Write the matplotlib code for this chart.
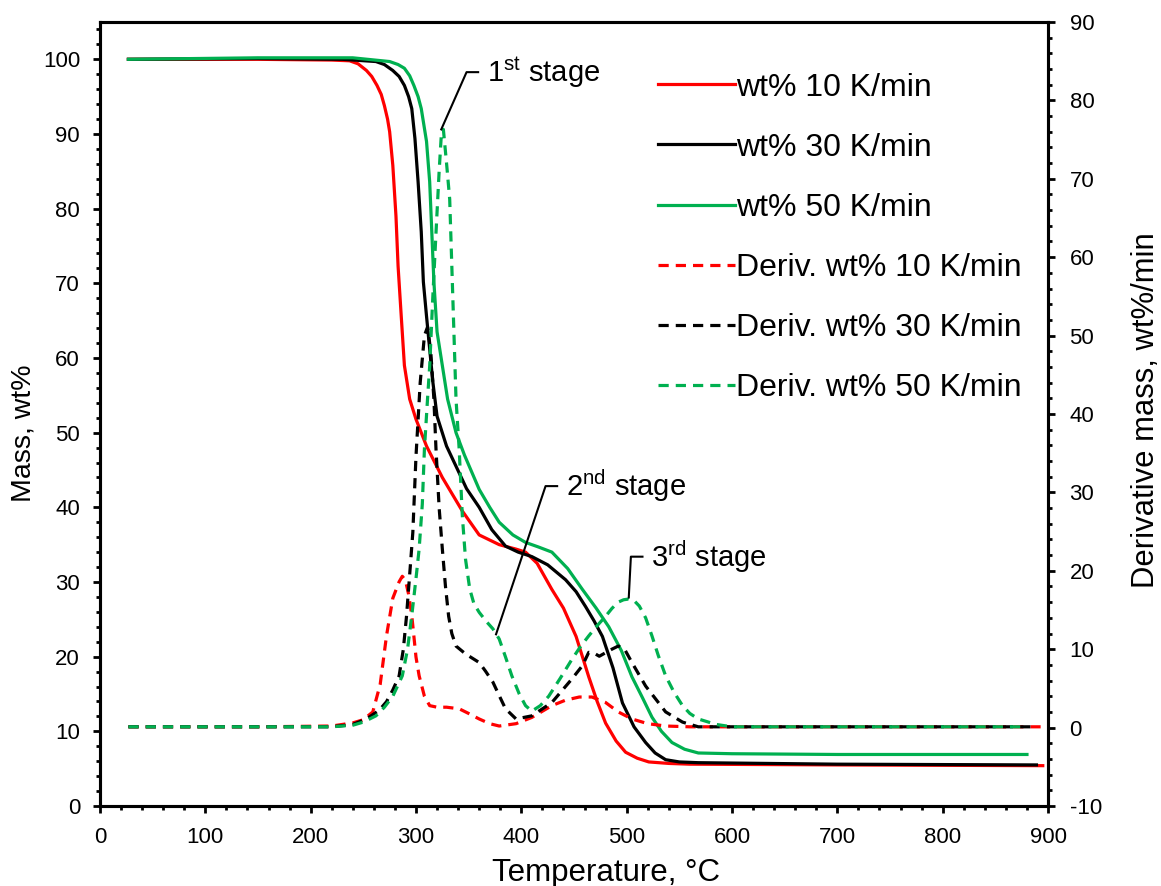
import matplotlib
matplotlib.use('Agg')
import matplotlib.pyplot as plt
from matplotlib.ticker import MultipleLocator, AutoMinorLocator

plt.rcParams['font.family'] = ['Liberation Sans', 'DejaVu Sans']
plt.rcParams['mathtext.fontset'] = 'custom'
plt.rcParams['mathtext.rm'] = 'Liberation Sans'
plt.rcParams['mathtext.it'] = 'Liberation Sans:italic'
plt.rcParams['axes.unicode_minus'] = False

# ---- TG curves (mass, wt%) ----
T_tg_10 = [27, 150, 220, 237, 245, 253, 258, 263, 267, 270, 273, 275, 278, 281, 283, 286, 289, 294, 300, 310,
           325, 344, 360, 379, 395, 404, 415, 429, 440, 452, 464, 472, 480, 490, 499, 510, 521, 540, 560, 700, 895]
m_10 = [100, 100, 99.9, 99.8, 99.4, 98.5, 97.7, 96.5, 95.3, 93.8, 92, 90.3, 85.8, 79, 72.3, 65.6, 59, 54.5, 51.8,
        48.2, 44, 39.5, 36.3, 35, 34.4, 34, 32.5, 29, 26.5, 22.7, 17.3, 14, 11.1, 8.7, 7.2, 6.4, 5.9, 5.7, 5.6,
        5.5, 5.4]

T_tg_30 = [27, 150, 230, 262, 270, 278, 284, 289, 293, 296, 299, 302, 305, 307, 310, 313, 316, 320, 329, 338,
           348, 360, 372, 385, 397, 410, 425, 442, 452, 461, 469, 477, 487, 496, 507, 518, 527, 537, 550, 568,
           700, 889]
m_30 = [100, 100.1, 100, 99.7, 99.3, 98.5, 97.7, 96.5, 95, 93.4, 89.4, 83.6, 76.9, 70.2, 65.6, 61.2, 56.8,
        52.2, 48.2, 45.5, 42.5, 40, 37, 34.8, 34, 33.4, 32.3, 30.3, 28.7, 26.7, 24.8, 22.7, 18.5, 13.8, 10.6,
        8.5, 7.1, 6.2, 5.9, 5.8, 5.6, 5.5]

T_tg_50 = [27, 150, 240, 275, 283, 289, 294, 298, 302, 305, 310, 313, 315, 317, 320, 325, 330, 338, 346, 360,
           370, 379, 392, 404, 416, 429, 444, 458, 471, 483, 495, 505, 515, 524, 533, 543, 555, 568, 600, 700,
           880]
m_50 = [100, 100.2, 100.2, 99.7, 99.3, 98.8, 97.8, 96.5, 95, 93.4, 89, 83.6, 76.9, 70.2, 63.5, 59, 54.5, 50,
        47, 42.4, 40, 38, 36.3, 35.3, 34.7, 34, 31.8, 29, 26.5, 24, 20.8, 17.3, 14.5, 11.9, 10, 8.5, 7.6, 7.1,
        7.0, 6.9, 6.9]

# ---- DTG curves (derivative mass, wt%/min) ----
T_d_10 = [27, 150, 220, 240, 250, 259, 266, 272, 278, 284, 287, 290, 293, 296, 300, 303, 308, 313, 320,
          329, 341, 350, 360, 370, 379, 395, 410, 429, 442, 455, 467, 480, 492, 505, 520, 537, 560, 700, 895]
d_10 = [0.1, 0.1, 0.2, 0.6, 1.0, 2.0, 5.5, 11.7, 16.5, 18.6, 19.3, 18.8, 17, 14.3, 9, 6.6, 4, 2.8, 2.6,
        2.6, 2.4, 1.8, 1.1, 0.5, 0.2, 0.5, 1.3, 2.8, 3.5, 3.9, 3.9, 3.2, 2.0, 1.1, 0.5, 0.2, 0.1, 0.1, 0.1]

T_d_30 = [27, 150, 220, 240, 253, 265, 272, 278, 284, 288, 291, 294, 297, 300, 304, 308, 311, 314, 317,
          319, 322, 325, 328, 331, 334, 338, 347, 360, 366, 373, 380, 385, 395, 410, 429, 448, 458, 464,
          469, 474, 486, 492, 498, 505, 518, 537, 553, 568, 700, 889]
d_30 = [0.1, 0.1, 0.1, 0.4, 1.1, 2.2, 3.3, 4.8, 6.6, 10, 14.2, 19.5, 24.9, 34.6, 44, 50, 51.1, 48, 41.9,
        35.5, 28, 22.8, 18, 14.2, 12, 10.4, 9.4, 8.3, 7.2, 5.8, 3.8, 2.4, 1.1, 1.5, 3.2, 6.2, 7.9, 9.6,
        9.5, 9.1, 10.0, 10.4, 10.0, 8.3, 5.3, 2.0, 0.7, 0.1, 0.1, 0.1]

T_d_50 = [27, 150, 220, 240, 250, 262, 270, 278, 287, 292, 296, 300, 303, 306, 308, 311, 313, 316, 319,
          322, 324, 326, 329, 332, 335, 338, 341, 344, 347, 351, 355, 360, 367, 373, 379, 385, 391, 398,
          404, 410, 418, 426, 437, 448, 456, 464, 472, 480, 486, 492, 497, 502, 507, 512, 518, 524, 530,
          537, 545, 553, 560, 568, 585, 600, 700, 880]
d_50 = [0.1, 0.1, 0.1, 0.3, 0.7, 1.5, 2.6, 4.0, 6.6, 10, 14.3, 19, 22.8, 28.5, 35.5, 42, 46.1, 55, 63.1,
        71, 75.5, 76.3, 72, 67.4, 54.7, 41.9, 35.5, 27, 21.5, 17.7, 15.8, 14.7, 13.5, 12.6, 11.3, 9, 6.6, 4.3,
        2.8, 2.1, 2.8, 4.0, 6.3, 8.7, 10.3, 11.7, 13, 14.2, 15.2, 16.0, 16.3, 16.4, 16.2, 15.5, 14, 11.7, 9.2,
        6.6, 4.5, 2.8, 1.8, 1.1, 0.4, 0.1, 0.1, 0.1]

# stage annotations: label, peak point, elbow (derivative axis units)
stage_labels = ['1$^{\\mathrm{st}}$ stage', '2$^{\\mathrm{nd}}$ stage', '3$^{\\mathrm{rd}}$ stage']
stage_points = [(324, 76.3), (376, 11.9), (502, 16.6)]
stage_elbows = [(348, 83.6), (423, 30.8), (504, 21.8)]

RED = '#FF0000'
BLACK = '#000000'
GREEN = '#00B050'
LW = 2.3
DASH = (3.2, 2.2)

fig = plt.figure(figsize=(11.61, 8.86), dpi=100)
ax = fig.add_axes([0.0861, 0.0903, 0.8166, 0.8849])
ax2 = ax.twinx()

h1, = ax.plot(T_tg_10, m_10, color=RED, lw=LW, label='wt% 10 K/min')
h2, = ax.plot(T_tg_30, m_30, color=BLACK, lw=LW, label='wt% 30 K/min')
h3, = ax.plot(T_tg_50, m_50, color=GREEN, lw=LW, label='wt% 50 K/min')
h4, = ax2.plot(T_d_10, d_10, color=RED, lw=LW, dashes=DASH, label='Deriv. wt% 10 K/min')
h5, = ax2.plot(T_d_30, d_30, color=BLACK, lw=LW, dashes=DASH, label='Deriv. wt% 30 K/min')
h6, = ax2.plot(T_d_50, d_50, color=GREEN, lw=LW, dashes=DASH, label='Deriv. wt% 50 K/min')

ax.set_xlim(0, 900)
ax.set_ylim(0, 105)
ax2.set_ylim(-10, 90)
ax.xaxis.set_major_locator(MultipleLocator(100))
ax.xaxis.set_minor_locator(AutoMinorLocator(5))
ax.yaxis.set_major_locator(MultipleLocator(10))
ax.yaxis.set_minor_locator(AutoMinorLocator(5))
ax2.yaxis.set_major_locator(MultipleLocator(10))
ax2.yaxis.set_minor_locator(AutoMinorLocator(5))

for a in (ax, ax2):
    for s in a.spines.values():
        s.set_linewidth(2.2)
    a.tick_params(which='major', direction='out', length=5, width=2, labelsize=16)
    a.tick_params(which='minor', direction='out', length=3, width=2)
ax.tick_params(axis='x', which='major', pad=10)
ax.tick_params(axis='y', which='major', pad=9.3)
ax2.tick_params(axis='y', which='major', pad=10.5)

ax.set_xlabel('Temperature, °C', fontsize=22.5)
ax.set_ylabel('Mass, wt%', fontsize=20.5)
ax2.set_ylabel('Derivative mass, wt%/min', fontsize=22.3)
ax.xaxis.set_label_coords(0.534, -0.066)
ax.yaxis.set_label_coords(-0.067, 0.476)
ax2.yaxis.set_label_coords(1.087, 0.505)

for lab, (px, py), (ex, ey) in zip(stage_labels, stage_points, stage_elbows):
    ax2.plot([px, ex, ex + 11], [py, ey, ey], color='black', lw=1.5)
    ax2.text(ex + 19, ey, lab, fontsize=21, ha='left', va='center')

ax2.legend([h1, h2, h3, h4, h5, h6], [h.get_label() for h in (h1, h2, h3, h4, h5, h6)],
           loc='upper left', bbox_to_anchor=(0.5668, 0.918), bbox_transform=fig.transFigure,
           frameon=False, fontsize=23, handlelength=2.41, handletextpad=0.03,
           labelspacing=0.94, borderaxespad=0, borderpad=0)

fig.savefig('out.png', dpi=100)
